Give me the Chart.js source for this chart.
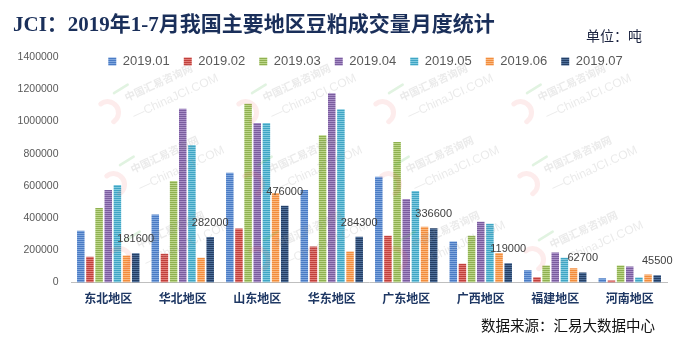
<!DOCTYPE html>
<html>
<head>
<meta charset="utf-8">
<script src="https://cdn.jsdelivr.net/npm/chart.js@4.4.1/dist/chart.umd.min.js"></script>
<style>
  body { margin: 0; background: #fff; }
  #wrap { position: relative; width: 692px; height: 349px; overflow: hidden; }
  #grafik { position: absolute; left: 0; top: 0; }
  #judul {
    position: absolute; left: 13px; top: 14px;
    font: bold 21px/1 "Liberation Serif", "Noto Sans CJK SC", serif;
    color: #1a2f5a; white-space: nowrap;
  }
  #satuan {
    position: absolute; left: 586px; top: 28px;
    font: 14px/1 "Noto Sans CJK SC", sans-serif; color: #1c2440;
  }
  #sumber {
    position: absolute; left: 481px; top: 318px;
    font: 14.5px/1 "Noto Sans CJK SC", sans-serif; color: #111;
  }
</style>
</head>
<body>
<div id="wrap">
  <canvas id="grafik" width="692" height="349"></canvas>
  <div id="judul">JCI：2019年1-7月我国主要地区豆粕成交量月度统计</div>
  <div id="satuan">单位：吨</div>
  <div id="sumber">数据来源：汇易大数据中心</div>
</div>
<script>
const categories = ["东北地区", "华北地区", "山东地区", "华东地区", "广东地区", "广西地区", "福建地区", "河南地区"];
const months = ["2019.01", "2019.02", "2019.03", "2019.04", "2019.05", "2019.06", "2019.07"];

// 单位：吨
const jan = [321000, 422000, 681000, 574000, 656000, 255000, 76000, 27000];
const feb = [160000, 179000, 335000, 224000, 290000, 117000, 33000, 12000];
const mar = [463000, 630000, 1110000, 914000, 873000, 290000, 105000, 105000];
const apr = [574000, 1079000, 990000, 1175000, 519000, 377000, 187000, 99000];
const may = [605000, 854000, 990000, 1075000, 568000, 364000, 154000, 31000];
const jun = [167000, 154000, 556000, 193000, 346000, 183000, 88000, 49000];
const jul = [181600, 282000, 476000, 284300, 336600, 119000, 62700, 45500];

const yTicks = [0, 200000, 400000, 600000, 800000, 1000000, 1200000, 1400000];

// 每个月份的条纹填充：深色 + 浅色
const warna = [
  ["#4a7bc4", "#80a7de"],
  ["#c0403c", "#e27c78"],
  ["#8fb050", "#bdd78b"],
  ["#7a5c9e", "#a990c7"],
  ["#3fa5c4", "#80cadf"],
  ["#f28c3c", "#fab880"],
  ["#243f66", "#50709a"]
];

function makeStripe(base, light) {
  const c = document.createElement("canvas");
  c.width = 4;
  c.height = 2;
  const g = c.getContext("2d");
  g.fillStyle = light;
  g.fillRect(0, 0, 4, 2);
  g.fillStyle = base;
  g.fillRect(0, 0, 4, 1);
  return g.createPattern(c, "repeat");
}

// 水印
function drawLogo(ctx, x, y) {
  ctx.save();
  ctx.translate(x, y);
  ctx.rotate(-0.43);
  ctx.lineCap = "round";
  ctx.strokeStyle = "rgba(235,95,95,0.12)";
  ctx.lineWidth = 5;
  ctx.beginPath();
  ctx.arc(-22, 6, 11, -1.8, 1.4);
  ctx.stroke();
  ctx.strokeStyle = "rgba(90,190,90,0.18)";
  ctx.lineWidth = 2.5;
  ctx.beginPath();
  ctx.moveTo(-8, -9);
  ctx.lineTo(8, -11);
  ctx.stroke();
  ctx.fillStyle = "rgba(150,150,150,0.2)";
  ctx.textBaseline = "middle";
  ctx.font = "bold 10.5px 'Noto Sans CJK SC'";
  ctx.fillText("中国汇易咨询网", 0, 0);
  ctx.font = "12px 'Liberation Sans'";
  ctx.fillText("—ChinaJCI.COM", 0, 20);
  ctx.restore();
}

const watermark = {
  id: "watermark",
  afterDatasetsDraw(chart) {
    const ctx = chart.ctx;
    const cols = [125, 263, 400, 538];
    const rows = [98, 170, 245];
    rows.forEach((y, r) => {
      cols.forEach(x => drawLogo(ctx, x + r * 6, y));
    });
  }
};

// 7月数值标注
const labelJuli = {
  id: "labelJuli",
  afterDatasetsDraw(chart) {
    const meta = chart.getDatasetMeta(6);
    const ctx = chart.ctx;
    ctx.save();
    ctx.font = "11px 'Liberation Sans'";
    ctx.fillStyle = "#404040";
    ctx.textAlign = "center";
    ctx.textBaseline = "middle";
    meta.data.forEach((bar, i) => {
      ctx.fillText(String(jul[i]), bar.x, bar.y - 14);
    });
    ctx.restore();
  }
};

// 图例压在绘图区上沿
const geserLegend = {
  id: "geserLegend",
  afterLayout(chart) {
    const lg = chart.legend;
    lg.top += 21;
    lg.bottom += 21;
    lg.left += 32;
    lg.right += 32;
  }
};

function gambar() {
  const series = [jan, feb, mar, apr, may, jun, jul];
  const datasets = series.map((data, i) => ({
    label: months[i],
    data,
    backgroundColor: makeStripe(warna[i][0], warna[i][1]),
    borderColor: "rgba(0,0,0,0)",
    borderWidth: 0,
    categoryPercentage: 0.86,
    barPercentage: 0.82
  }));

  Chart.defaults.font.family = "'Liberation Sans', sans-serif";

  new Chart(document.getElementById("grafik"), {
    type: "bar",
    data: { labels: categories, datasets },
    options: {
      responsive: false,
      animation: false,
      layout: { padding: { left: 0, right: 25, top: 20, bottom: 0 } },
      plugins: {
        tooltip: { enabled: false },
        legend: {
          position: "top",
          labels: {
            boxWidth: 8,
            boxHeight: 8,
            padding: 14,
            color: "#595959",
            font: { size: 13 }
          }
        }
      },
      scales: {
        x: {
          grid: { display: false, drawTicks: false },
          border: { display: true, color: "#bfbfbf", width: 1 },
          ticks: {
            padding: 9,
            color: "#1f3864",
            font: { family: "'Noto Sans CJK SC'", size: 12, weight: "bold" }
          },
          afterFit(scale) { scale.height = 66.5; }
        },
        y: {
          min: 0,
          max: 1400000,
          grid: { display: false, drawTicks: false },
          border: { display: false },
          afterBuildTicks(scale) { scale.ticks = yTicks.map(v => ({ value: v })); },
          ticks: {
            padding: 12.5,
            color: "#595959",
            font: { size: 10.5 },
            callback: v => String(v)
          },
          afterFit(scale) { scale.width = 71; }
        }
      }
    },
    plugins: [watermark, labelJuli, geserLegend]
  });
}

window.addEventListener("DOMContentLoaded", gambar);
</script>
</body>
</html>
